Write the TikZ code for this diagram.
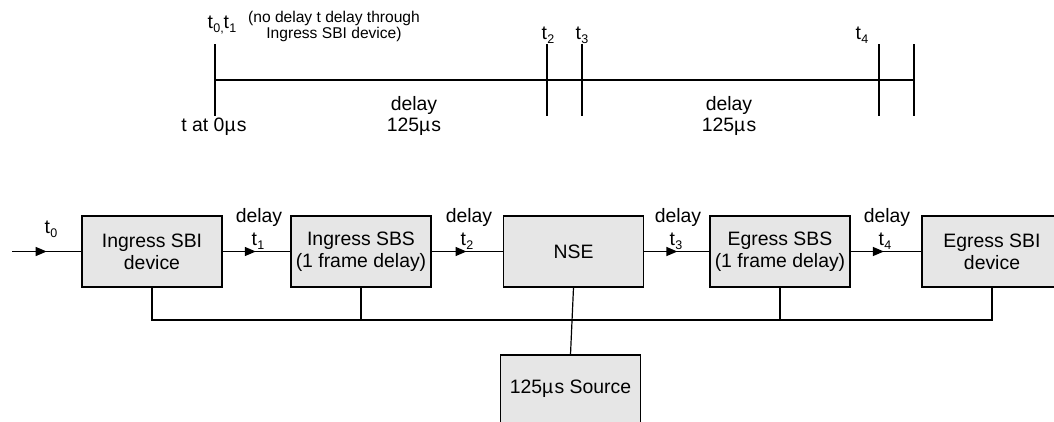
\documentclass[tikz,border=0pt]{standalone}
\usepackage{fontspec}
\setmainfont{Liberation Sans}
\usetikzlibrary{arrows.meta,decorations.markings}
\definecolor{boxgray}{RGB}{230,230,230}
\newcommand{\tl}[1]{t\kern0.3pt\raisebox{-4pt}{\fontsize{12.5}{12.5}\selectfont #1}}
\newcommand{\mus}{µ\kern1.2pt s}
\tikzset{
 blk/.style={draw=black, line width=1.2pt, fill=boxgray, minimum width=140pt, minimum height=71pt, inner sep=0pt, align=center, font=\fontsize{19.4}{22}\selectfont},
 lbl/.style={anchor=base, inner sep=0pt, font=\fontsize{19.4}{22}\selectfont},
 small/.style={anchor=base, inner sep=0pt, font=\fontsize{15.6}{16.5}\selectfont},
 wire/.style={line width=1.2pt},
 flow/.style={wire, postaction={decorate}, decoration={markings, mark=at position #1 with {\arrow{Triangle[length=11pt,width=9pt]}}}},
}
\begin{document}
\begin{tikzpicture}[x=1pt,y=-1pt]
\useasboundingbox (0,0) rectangle (1054,421);
% timeline
\coordinate (ta) at (215,80);
\coordinate (tb) at (914,80);
\draw[wire] (ta) -- (tb);
\foreach \x in {215,547,582,879,914} {\draw[wire] (\x,44) -- (\x,116);}
\node[lbl] (t01) at (222,28) {\tl{0,}\tl{1}};
\node[small] (p1) at (334,22) {(no delay t delay through};
\node[small] (p2) at (334,38.5) {Ingress SBI device)};
\node[lbl] (t2top) at (548,39) {\tl{2}};
\node[lbl] (t3top) at (582,39) {\tl{3}};
\node[lbl] (t4top) at (862,39) {\tl{4}};
\node[lbl] (tzero) at (214,131.5) {t at 0\mus};
\node[lbl] (d1top) at (414,110) {delay};
\node[lbl] (u1top) at (414,131.5) {125\mus};
\node[lbl] (d2top) at (729,110) {delay};
\node[lbl] (u2top) at (729,131.5) {125\mus};
% blocks
\node[blk] (b1) at (152,251.5) {Ingress SBI\\device};
\node[blk] (b2) at (361,251.5) {Ingress SBS\\(1 frame delay)};
\node[blk] (nse) at (573.5,251.5) {NSE};
\node[blk] (b4) at (780,251.5) {Egress SBS\\(1 frame delay)};
\node[blk] (b5) at (992,251.5) {Egress SBI\\device};
\node[blk, minimum height=68pt] (src) at (570.5,389) {125\mus{} Source};
\coordinate (in) at (12,251.5);
% flow connectors
\draw[flow=0.5] (in) -- (b1.west);
\draw[flow=0.49] (b1.east) -- (b2.west);
\draw[flow=0.49] (b2.east) -- (nse.west);
\draw[flow=0.51] (nse.east) -- (b4.west);
\draw[flow=0.47] (b4.east) -- (b5.west);
% labels
\node[lbl] (t0b) at (51,233) {\tl{0}};
\node[lbl] (d1) at (259,222) {delay};
\node[lbl] (t1b) at (258,245) {\tl{1}};
\node[lbl] (d2) at (469,222) {delay};
\node[lbl] (t2b) at (467,245) {\tl{2}};
\node[lbl] (d3) at (678,222) {delay};
\node[lbl] (t3b) at (676,245) {\tl{3}};
\node[lbl] (d4) at (887,222) {delay};
\node[lbl] (t4b) at (885,245) {\tl{4}};
% bus
\coordinate (busl) at (152,320);
\coordinate (busr) at (992,320);
\draw[wire] (b1.south) -- (busl) -- (busr) -- (b5.south);
\draw[wire] (b2.south) -- (b2.south |- busl);
\draw[wire] (b4.south) -- (b4.south |- busl);
\draw[wire] (nse.south) -- (src.north);
\end{tikzpicture}
\end{document}
